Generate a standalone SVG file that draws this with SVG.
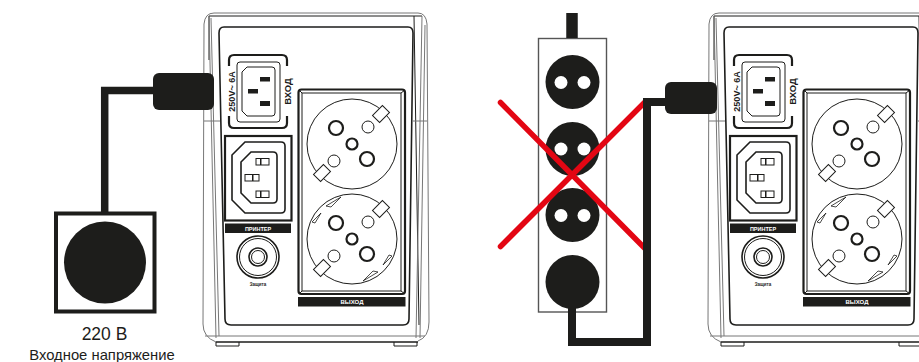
<svg xmlns="http://www.w3.org/2000/svg" xmlns:xlink="http://www.w3.org/1999/xlink" width="919" height="362" viewBox="0 0 919 362">
<style>
.k{fill:#1d1d1b}
.l{fill:none;stroke:#1d1d1b;stroke-width:1}
.m{fill:none;stroke:#1d1d1b;stroke-width:1.6}
.h{fill:none;stroke:#1d1d1b;stroke-width:2.2}
.g{fill:none;stroke:#777;stroke-width:1}
.c{fill:none;stroke:#1d1d1b;stroke-linejoin:miter}
.w{font-family:"Liberation Sans",Arial,sans-serif;font-weight:700;fill:#fff;text-anchor:middle}
.b{font-family:"Liberation Sans",Arial,sans-serif;font-weight:700;fill:#1d1d1b;text-anchor:middle}
.t{font-family:"Liberation Sans",Arial,sans-serif;fill:#1d1d1b;text-anchor:middle}
</style>
<defs>
<g id="schuko">
<circle cx="352" cy="0" r="45" class="l"/>
<circle cx="336" cy="-16" r="7" class="h"/>
<circle cx="368" cy="-17" r="6" class="l"/>
<circle cx="352" cy="0" r="5.500" class="h"/>
<circle cx="367" cy="15" r="7" class="h"/>
<circle cx="334" cy="17" r="6" class="l"/>
<g fill="#fff" stroke="#1d1d1b">
<rect x="-7" y="-5" width="14" height="10" transform="translate(381 -30) rotate(-45)"/>
<rect x="-7" y="-5" width="14" height="10" transform="translate(322 29) rotate(-45)"/>
</g>
</g>
<g id="ups">
<path class="g" d="M214 13H418Q426 13 427 24L429 322Q429 337 418 341"/>
<path class="g" d="M214 13Q205 13 204 24L203 324Q203 337 216 342"/>
<path class="l" d="M209 16H422M209 16L209 60M414 16L419 325"/>
<path class="g" d="M209 16L216 338M211 18L219 336M422 16L416 338M425 25L420 338"/>
<path class="m" d="M224 27H408Q413 27 413 33L409 319Q409 325 403 325H231Q225 325 225 319L219 33Q219 27 224 27Z"/>
<path class="g" d="M204 121H220M413 121H427"/>
<path class="g" d="M205 336H425"/>
<path class="m" d="M216 342H418"/>
<path class="l" d="M216 342V346H239V342M394 342V346H417V342"/>
<path class="h" d="M229 66V60Q229 55 234 55H282Q287 55 287 60V66M229 116V123Q229 128 234 128H282Q287 128 287 123V116"/>
<rect x="237" y="62" width="43" height="60" rx="3" class="l"/>
<path class="l" d="M247 67H272Q275 67 275 70V113Q275 116 272 116H247L242 111V72Z"/>
<rect class="k" x="260" y="77" width="10" height="4.500"/>
<rect class="k" x="248" y="89" width="10" height="4.500"/>
<rect class="k" x="260" y="101" width="10" height="5"/>
<rect x="225" y="136" width="66.500" height="84.500" class="h"/>
<path class="m" d="M245 142H281Q285 142 285 146V209Q285 213 281 213H245L232 200V155Z"/>
<path class="m" d="M251 152H273Q277 152 277 156V199Q277 203 273 203H251L241 193V162Z"/>
<rect x="256" y="158.500" width="13" height="6.500" fill="#fff" stroke="#1d1d1b"/>
<rect x="245" y="174.500" width="14" height="6.500" fill="#fff" stroke="#1d1d1b"/>
<rect x="256" y="191" width="13" height="6.500" fill="#fff" stroke="#1d1d1b"/>
<path class="k" d="M260 158.500h1.500v6.500h-1.500zM252 174.500h1.500v6.500h-1.500zM260 191h1.500v6.500h-1.500z"/>
<rect class="k" x="225" y="223.500" width="66" height="9.500"/>
<circle cx="258" cy="257" r="21" class="m"/>
<circle cx="258" cy="257" r="18.500" class="l"/>
<circle cx="258" cy="257" r="9" class="m"/>
<circle cx="258" cy="257" r="6.500" class="l"/>
<rect x="298.500" y="89.500" width="106.500" height="204.500" rx="3" class="h"/>
<path class="l" d="M302 93V291M401 93V291M302 93H401M302 291H401M299 90L302 93M405 90L401 93M299 294L302 291M405 294L401 291"/>
<rect class="k" x="298" y="297" width="107.500" height="9.500"/>
<use xlink:href="#schuko" href="#schuko" y="144"/>
<use xlink:href="#schuko" href="#schuko" y="239"/>
<g fill="#fff" stroke="#1d1d1b" stroke-width=".8">
<path d="M326 206L331 207L341 197Z"/>
<path d="M378 272L373 271L363 281Z"/>
<path d="M312 222L315 223L321 213Z"/>
<path d="M392 256L389 255L383 265Z"/>
</g>
</g>
</defs>
<g id="ups-left">
<use xlink:href="#ups" href="#ups"/>
<text class="b" font-size="9" transform="translate(234.500 91.500) rotate(-90)">250V~ 6A</text>
<text class="b" font-size="9.500" transform="translate(291 91.500) rotate(-90)">ВХОД</text>
<text class="w" font-size="5.500" x="258" y="230.500">ПРИНТЕР</text>
<text class="b" font-size="4.500" x="258" y="286">Защита</text>
<text class="w" font-size="6" x="352" y="304">ВЫХОД</text>
</g>
<g id="ups-right">
<use xlink:href="#ups" href="#ups" x="505"/>
<text class="b" font-size="9" transform="translate(739.500 91.500) rotate(-90)">250V~ 6A</text>
<text class="b" font-size="9.500" transform="translate(796 91.500) rotate(-90)">ВХОД</text>
<text class="w" font-size="5.500" x="763" y="230.500">ПРИНТЕР</text>
<text class="b" font-size="4.500" x="763" y="286">Защита</text>
<text class="w" font-size="6" x="857" y="304">ВЫХОД</text>
</g>
<g id="wall-socket">
<rect x="56" y="213.500" width="98.500" height="98" fill="#fff" stroke="#1d1d1b" stroke-width="4"/>
<circle class="k" cx="105" cy="262.500" r="41"/>
<text class="t" font-size="17.500" x="104.500" y="340">220 В</text>
<text class="t" font-size="14.800" x="102" y="360">Входное напряжение</text>
</g>
<g id="power-strip">
<rect x="538.500" y="38.500" width="68" height="273.500" fill="#fff" stroke="#555" stroke-width="1.400"/>
<circle class="k" cx="572.500" cy="82" r="27"/>
<circle class="k" cx="572.500" cy="149" r="27"/>
<circle class="k" cx="572.500" cy="215" r="27"/>
<circle class="k" cx="572.500" cy="282" r="27"/>
<g fill="#fff">
<circle cx="561" cy="82.500" r="6.500"/><circle cx="584" cy="82.500" r="6.500"/>
<circle cx="561" cy="149" r="6.500"/><circle cx="584" cy="149" r="6.500"/>
<circle cx="561" cy="215.500" r="6.500"/><circle cx="584" cy="215.500" r="6.500"/>
</g>
</g>
<g id="red-cross" fill="none" stroke="#e30613" stroke-width="5.500" stroke-linecap="round">
<path d="M500.500 102.500L645 248.500"/>
<path d="M500.500 246.500L645 102"/>
</g>
<g id="connectors">
<path class="c" stroke-width="7.500" d="M153 90.500H104.700V213"/>
<path class="c" stroke-width="11.500" d="M572 13V38"/>
<path class="c" stroke-width="8" d="M572 305V342H647V102H670"/>
</g>
<g id="plug-left"><rect class="k" x="153" y="73" width="61" height="37" rx="6"/></g>
<g id="plug-right"><rect class="k" x="665" y="82" width="52" height="32" rx="6"/></g>
</svg>
